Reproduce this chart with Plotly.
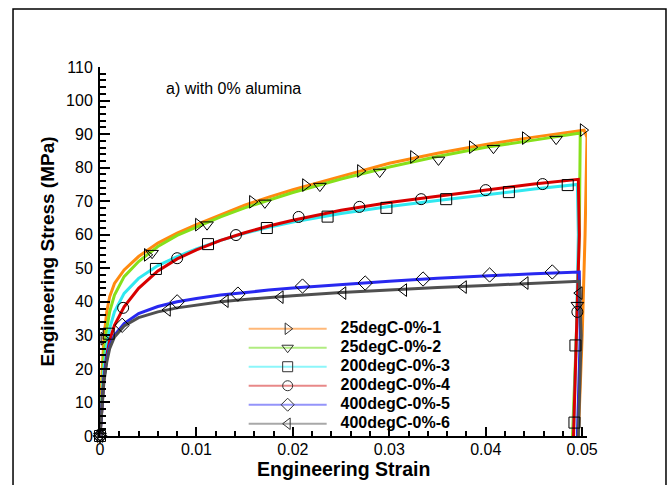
import plotly.graph_objects as go

# ---------------- data ----------------
series_names = ["25degC-0%-1", "25degC-0%-2", "200degC-0%-3",
                "200degC-0%-4", "400degC-0%-5", "400degC-0%-6"]

strain_1 = [0, 0.0002, 0.0004, 0.0007, 0.001, 0.0015, 0.0025, 0.004, 0.006, 0.008, 0.01,
            0.0125, 0.015, 0.0175, 0.02, 0.025, 0.03, 0.035, 0.04, 0.045, 0.0502,
            0.0505, 0.0503, 0.0500, 0.0496]
stress_1 = [0, 18, 29, 37, 41.5, 45.5, 49.5, 53.5, 57.5, 60.5, 63,
            66, 68.8, 71.2, 73.4, 77.4, 81.3, 84.3, 86.9, 89.1, 91.2,
            89, 60, 30, 0]

strain_2 = [0, 0.0002, 0.0004, 0.0007, 0.001, 0.0015, 0.0025, 0.004, 0.006, 0.008, 0.01,
            0.0125, 0.015, 0.0175, 0.02, 0.025, 0.03, 0.035, 0.04, 0.045, 0.0498,
            0.0497, 0.0494, 0.0490]
stress_2 = [0, 14, 24, 32, 37, 42, 47.5, 52, 56.5, 59.8, 62.3,
            65.3, 68, 70.4, 72.6, 76.6, 80.2, 83.3, 86.1, 88.2, 90.3,
            60, 30, 0]

strain_3 = [0, 0.0002, 0.0004, 0.0007, 0.001, 0.0015, 0.0025, 0.004, 0.006, 0.008, 0.01,
            0.0125, 0.015, 0.0175, 0.02, 0.025, 0.03, 0.035, 0.04, 0.045, 0.0495,
            0.0496, 0.0494, 0.0491]
stress_3 = [0, 12, 20, 27, 32, 37, 42.5, 47, 50.8, 53.5, 55.8,
            58.3, 60.4, 62.2, 63.8, 66.3, 68.4, 70.2, 72, 73.6, 75,
            60, 30, 0]

strain_4 = [0, 0.0002, 0.0004, 0.0007, 0.001, 0.0015, 0.0025, 0.004, 0.006, 0.008, 0.01,
            0.0125, 0.015, 0.0175, 0.02, 0.025, 0.03, 0.035, 0.04, 0.045, 0.0496,
            0.0497, 0.0494, 0.0491]
stress_4 = [0, 10, 17, 24, 28.5, 33, 38.5, 44, 49.2, 52.8, 55.5,
            58.3, 60.6, 62.6, 64.3, 67.3, 69.6, 71.5, 73.4, 75.1, 76.5,
            60, 30, 0]

strain_5 = [0, 0.0002, 0.0004, 0.0007, 0.001, 0.0015, 0.0025, 0.004, 0.006, 0.008, 0.01,
            0.0125, 0.015, 0.0175, 0.02, 0.025, 0.03, 0.035, 0.04, 0.045, 0.0497,
            0.0498, 0.0495]
stress_5 = [0, 10, 17, 23, 27, 30, 33.5, 36.5, 38.6, 40, 41,
            42, 42.8, 43.5, 44.1, 45.2, 46.1, 47, 47.8, 48.4, 48.9,
            30, 0]

strain_6 = [0, 0.0002, 0.0004, 0.0007, 0.001, 0.0015, 0.0025, 0.004, 0.006, 0.008, 0.01,
            0.0125, 0.015, 0.0175, 0.02, 0.025, 0.03, 0.035, 0.04, 0.045, 0.0497,
            0.0499, 0.0496]
stress_6 = [0, 9, 16, 22, 26, 29.5, 32.8, 35.3, 37, 38.2, 39.1,
            40, 40.7, 41.3, 41.8, 42.8, 43.6, 44.3, 44.9, 45.5, 46.1,
            30, 0]

# marker positions along each curve
mk_strain_1 = [0, 0.0004, 0.0049, 0.0102, 0.0158, 0.0213, 0.0270, 0.0325, 0.0386, 0.0441, 0.0501]
mk_stress_1 = [0, 29, 54, 63, 69.8, 74.8, 79, 83.2, 86.1, 88.8, 91.2]
mk_strain_2 = [0, 0.0054, 0.0111, 0.0171, 0.0228, 0.0290, 0.0351, 0.0408, 0.0473, 0.0495]
mk_stress_2 = [0, 54.5, 63, 69.5, 74.5, 78.7, 82.3, 85.8, 88.5, 39]
mk_strain_3 = [0, 0.0009, 0.0058, 0.0112, 0.0173, 0.0236, 0.0297, 0.0359, 0.0424, 0.0485, 0.0493, 0.0492]
mk_stress_3 = [0, 30.5, 49.8, 57.2, 62, 65.4, 68, 70.6, 72.7, 74.8, 27, 4]
mk_strain_4 = [0, 0.0024, 0.0080, 0.0141, 0.0206, 0.0269, 0.0333, 0.0400, 0.0459, 0.0495]
mk_stress_4 = [0, 38.2, 53, 59.9, 65.3, 68.3, 70.6, 73.3, 75.1, 37]
mk_strain_5 = [0, 0.0023, 0.0080, 0.0143, 0.0210, 0.0275, 0.0335, 0.0404, 0.0469]
mk_stress_5 = [0, 33, 40, 42.3, 44.7, 45.6, 46.8, 48, 48.9]
mk_strain_6 = [0, 0.0070, 0.0130, 0.0187, 0.0252, 0.0315, 0.0377, 0.0441, 0.0497]
mk_stress_6 = [0, 37.6, 40.2, 41.4, 42.6, 43.5, 44.4, 45.6, 42.6]

x_ticks = [0, 0.01, 0.02, 0.03, 0.04, 0.05]
y_ticks = [0, 10, 20, 30, 40, 50, 60, 70, 80, 90, 100, 110]

# ---------------- styling ----------------
curve_colors = ["#FF8A10", "#86E01A", "#30E8F0", "#D80000", "#2828F0", "#505050"]
legend_colors = ["#FFB878", "#B0EC80", "#8CF6FA", "#E88888", "#9494FA", "#A8A8A8"]
symbols = ["triangle-right-open", "triangle-down-open", "square-open",
           "circle-open", "diamond-open", "triangle-left-open"]
FONT = "Liberation Sans, Arial, sans-serif"

curves = [(strain_1, stress_1), (strain_2, stress_2), (strain_3, stress_3),
          (strain_4, stress_4), (strain_5, stress_5), (strain_6, stress_6)]
markers = [(mk_strain_1, mk_stress_1), (mk_strain_2, mk_stress_2), (mk_strain_3, mk_stress_3),
           (mk_strain_4, mk_stress_4), (mk_strain_5, mk_stress_5), (mk_strain_6, mk_stress_6)]

fig = go.Figure()

for (sx, sy), col in zip(curves, curve_colors):
    fig.add_trace(go.Scatter(x=sx, y=sy, mode="lines", showlegend=False,
                             line=dict(color=col, width=3), hoverinfo="skip"))

for (mx, my), sym in zip(markers, symbols):
    fig.add_trace(go.Scatter(x=mx, y=my, mode="markers", showlegend=False,
                             cliponaxis=False,
                             marker=dict(symbol=sym, size=11, color="black",
                                         line=dict(width=1, color="black"))))

for name, lcol, sym in zip(series_names, legend_colors, symbols):
    fig.add_trace(go.Scatter(x=[None], y=[None], mode="lines+markers",
                             name='<span style="font-size:16px">&nbsp;&nbsp;<b>' + name + "</b></span>",
                             line=dict(color=lcol, width=2),
                             marker=dict(symbol=sym, size=10, color="#333333",
                                         line=dict(width=1, color="#333333"))))

fig.update_layout(
    width=670, height=485,
    margin=dict(l=100, r=83, t=67, b=49, pad=0),
    paper_bgcolor="white", plot_bgcolor="white",
    font=dict(family=FONT, color="black"),
    showlegend=True,
    legend=dict(x=0.295, y=0.33, xanchor="left", yanchor="top",
                bgcolor="rgba(0,0,0,0)", borderwidth=0,
                font=dict(size=11, family=FONT, color="black"),
                itemwidth=78, tracegroupgap=0),
    annotations=[
        dict(text="a) with 0% alumina", xref="paper", yref="paper",
             x=0.275, y=0.943, xanchor="center", yanchor="middle",
             showarrow=False, font=dict(size=16, family=FONT, color="black")),
        dict(text="<b>Engineering Strain</b>", xref="paper", yref="paper",
             x=0.5, y=-0.0894, xanchor="center", yanchor="middle",
             showarrow=False, font=dict(size=19.5, family=FONT, color="black")),
    ],
    shapes=[dict(type="rect", xref="paper", yref="paper",
                 x0=-0.1786, x1=1.1622, y0=-0.4, y1=1.157,
                 line=dict(color="black", width=1.5), layer="below")],
)

fig.update_xaxes(
    range=[0, 0.0505], tickvals=x_ticks, ticktext=[f"{v:g}" for v in x_ticks],
    showline=True, linecolor="black", linewidth=2,
    ticks="inside", ticklen=9, tickwidth=1.5, tickcolor="black",
    minor=dict(ticks="inside", ticklen=5, tickwidth=1.5, tickcolor="black", dtick=0.002, tick0=0),
    showgrid=False, zeroline=False, ticklabelstandoff=-2,
    tickfont=dict(size=16, family=FONT, color="black"),
)
fig.update_yaxes(
    range=[0, 110], tickvals=y_ticks, ticktext=[str(v) for v in y_ticks],
    showline=True, linecolor="black", linewidth=2,
    ticks="inside", ticklen=10, tickwidth=1.5, tickcolor="black",
    minor=dict(ticks="inside", ticklen=6, tickwidth=1.5, tickcolor="black", dtick=2, tick0=0),
    showgrid=False, zeroline=False, ticklabelstandoff=2,
    tickfont=dict(size=16, family=FONT, color="black"),
    title=dict(text="<b>Engineering Stress (MPa)</b>", font=dict(size=19, family=FONT, color="black"),
               standoff=6),
)

fig.write_html("out.html")
